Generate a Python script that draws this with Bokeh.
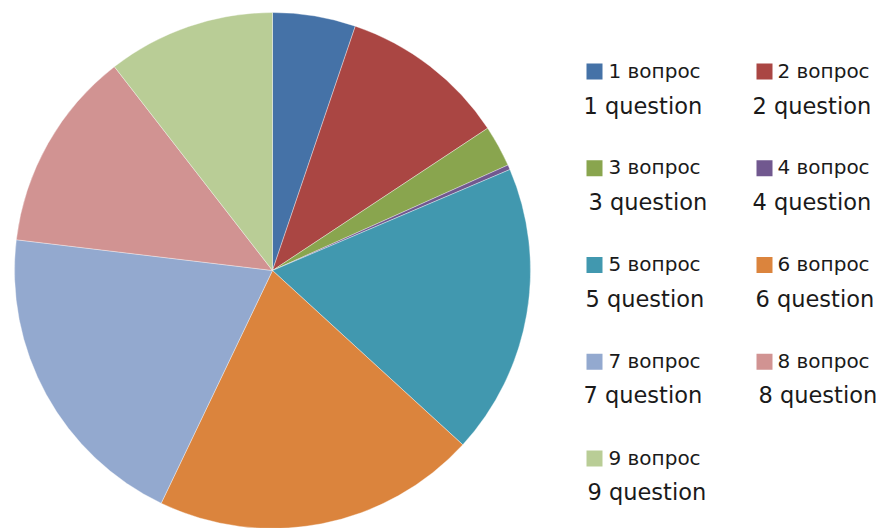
import math
from bokeh.plotting import figure
from bokeh.models import Range1d, ColumnDataSource
from bokeh.core.properties import value
from bokeh.embed import file_html
from bokeh.resources import INLINE

# ---- data ----
labels_ru = ["1 вопрос", "2 вопрос", "3 вопрос", "4 вопрос", "5 вопрос",
             "6 вопрос", "7 вопрос", "8 вопрос", "9 вопрос"]
labels_en = ["1 question", "2 question", "3 question", "4 question", "5 question",
             "6 question", "7 question", "8 question", "9 question"]
shares = [5.2, 10.5, 2.6, 0.3, 18.2, 20.3, 19.8, 12.6, 10.5]
colors = ["#4572A7", "#AA4643", "#89A54E", "#71588F", "#4198AF",
          "#DB843D", "#93A9CF", "#D19392", "#B9CD96"]

# ---- layout ----
W, H = 880, 528
p = figure(width=W, height=H, output_backend="svg", toolbar_location=None,
           x_range=Range1d(0, W), y_range=Range1d(0, H),
           x_axis_type=None, y_axis_type=None, min_border=0)
p.outline_line_color = None
p.grid.visible = False
p.background_fill_color = "white"

def sx(x):  # picture x -> data x
    return x

def sy(y):  # picture y -> data y
    return H - y

total = sum(shares)
starts, ends = [], []
cum = 0.0
for v in shares:
    starts.append(math.pi / 2 - 2 * math.pi * cum / total)
    cum += v
    ends.append(math.pi / 2 - 2 * math.pi * cum / total)

src = ColumnDataSource(dict(start=starts, end=ends, color=colors))
p.wedge(x=sx(272), y=sy(270), radius=258, start_angle="start", end_angle="end",
        direction="clock", fill_color="color", line_color="white", line_width=0.6,
        line_alpha=0.6, source=src)

# legend
sq_x = [594, 764]
ru_x = [608, 777]
en_x = [583, 752, 588, 752, 585, 755, 583, 758, 587]
lx, ly, lc, rx, ry, ex, ey = [], [], [], [], [], [], []
for i in range(len(shares)):
    col, row = i % 2, i // 2
    lx.append(sx(sq_x[col])); ly.append(sy(71 + 96.75 * row)); lc.append(colors[i])
    rx.append(sx(ru_x[col])); ry.append(sy(70 + 96.75 * row))
    ex.append(sx(en_x[i])); ey.append(sy(105.5 + 96.4 * row))

p.rect(x=lx, y=ly, width=16, height=16, fill_color=lc, line_color=None)
p.text(x=rx, y=ry, text=labels_ru, text_font=value("DejaVu Sans"),
       text_font_size="20px", text_baseline="alphabetic", text_align="left",
       text_color="#1a1a1a")
p.text(x=ex, y=ey, text=labels_en, text_font=value("DejaVu Sans"),
       text_font_size="22.5px", text_baseline="alphabetic", text_align="left",
       text_color="#1a1a1a")

open("out.html", "w").write(file_html(p, INLINE))
